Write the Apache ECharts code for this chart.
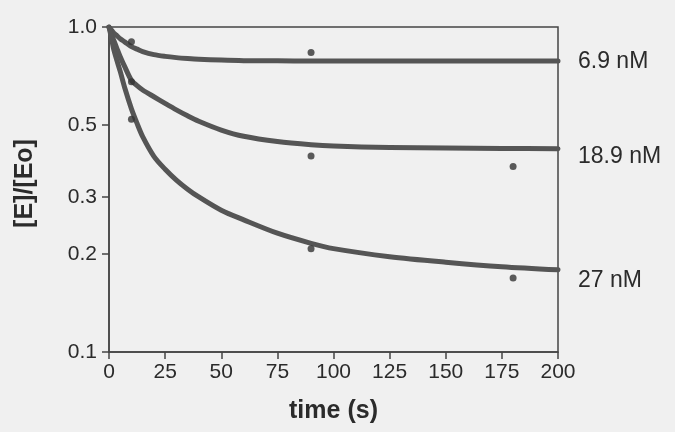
<!DOCTYPE html>
<html><head><meta charset="utf-8">
<script src="https://cdn.jsdelivr.net/npm/echarts@6/dist/echarts.min.js"></script>
<style>html,body{margin:0;padding:0;background:#f0f0f0}#c{width:675px;height:432px}</style>
</head><body><div id="c"></div>
<script>
// fitted curves
const times  = [0, 1, 2, 3.5, 5, 7, 10, 12.5, 15, 20, 25, 30, 35, 40, 50, 60, 75, 90, 100, 125, 150, 175, 200];
const fit69  = [1.0, 0.98, 0.96, 0.94, 0.92, 0.90, 0.87, 0.855, 0.84, 0.822, 0.812, 0.805, 0.80, 0.796, 0.791, 0.788, 0.787, 0.786, 0.786, 0.786, 0.786, 0.786, 0.786];
const fit189 = [1.0, 0.955, 0.915, 0.86, 0.81, 0.755, 0.685, 0.66, 0.64, 0.61, 0.582, 0.556, 0.533, 0.513, 0.482, 0.461, 0.444, 0.434, 0.43, 0.426, 0.424, 0.423, 0.422];
const fit27  = [1.0, 0.93, 0.86, 0.79, 0.73, 0.65, 0.56, 0.505, 0.46, 0.40, 0.365, 0.338, 0.317, 0.30, 0.273, 0.255, 0.232, 0.216, 0.208, 0.1965, 0.189, 0.183, 0.179];
// measured points
const obsTimes = [10, 90, 180];
const obs69  = [0.90, 0.834, null];
const obs189 = [0.678, 0.401, 0.372];
const obs27  = [0.52, 0.208, 0.169];
const seriesNames = ['6.9 nM', '18.9 nM', '27 nM'];
const yTicks = [0.1, 0.2, 0.3, 0.5, 1.0];
const xTicks = [0, 25, 50, 75, 100, 125, 150, 175, 200];

const pairs = (xs, ys) => xs.map((x, i) => [x, ys[i]]).filter(p => p[1] != null);
const fits = [fit69, fit189, fit27];
const obs = [obs69, obs189, obs27];
const labelDy = [1, 8, 11];
const textColor = '#2b2b2b';
const font = 'Liberation Sans, Arial, sans-serif';

const series = [];
fits.forEach((f, i) => {
  series.push({
    type: 'line', name: seriesNames[i], data: pairs(times, f),
    smooth: 0.3, showSymbol: false, symbol: 'none',
    lineStyle: { color: '#555555', width: 5, join: 'round', cap: 'round' },
    endLabel: { show: true, formatter: seriesNames[i], offset: [12, labelDy[i]],
      fontSize: 23, color: textColor, fontFamily: font },
    z: 2
  });
});
obs.forEach((o, i) => {
  series.push({
    type: 'scatter', data: pairs(obsTimes, o), symbolSize: 7,
    itemStyle: { color: '#333333' }, z: 3
  });
});

const chart = echarts.init(document.getElementById('c'), null, { renderer: 'canvas' });
chart.setOption({
  backgroundColor: '#f0f0f0',
  animation: false,
  grid: { left: 109, right: 117, top: 27, bottom: 80, show: true, borderColor: '#444', borderWidth: 1.5, backgroundColor: 'transparent' },
  xAxis: {
    type: 'value', min: 0, max: 200, interval: 25,
    name: 'time (s)', nameLocation: 'middle', nameGap: 47,
    nameTextStyle: { fontSize: 25, fontWeight: 'bold', color: textColor, fontFamily: font },
    axisLine: { lineStyle: { color: '#444', width: 1.5 } },
    axisTick: { show: true, length: 7, lineStyle: { color: '#444', width: 1.5 } },
    axisLabel: { fontSize: 21, color: textColor, margin: 10, fontFamily: font, customValues: xTicks },
    splitLine: { show: false }
  },
  yAxis: {
    type: 'log', logBase: 10, min: 0.1, max: 1.0,
    name: '[E]/[Eo]', nameLocation: 'middle', nameGap: 71,
    nameTextStyle: { fontSize: 25, fontWeight: 'bold', color: textColor, fontFamily: font, padding: [0, 0, 0, 12] },
    axisLine: { show: true, lineStyle: { color: '#444', width: 1.5 } },
    axisTick: { show: true, length: 7, customValues: yTicks, lineStyle: { color: '#444', width: 1.5 } },
    axisLabel: { fontSize: 21, color: textColor, margin: 12, fontFamily: font, customValues: yTicks,
      formatter: v => Number(v).toFixed(1) },
    splitLine: { show: false },
    minorTick: { show: false }
  },
  series: series
});
</script></body></html>
